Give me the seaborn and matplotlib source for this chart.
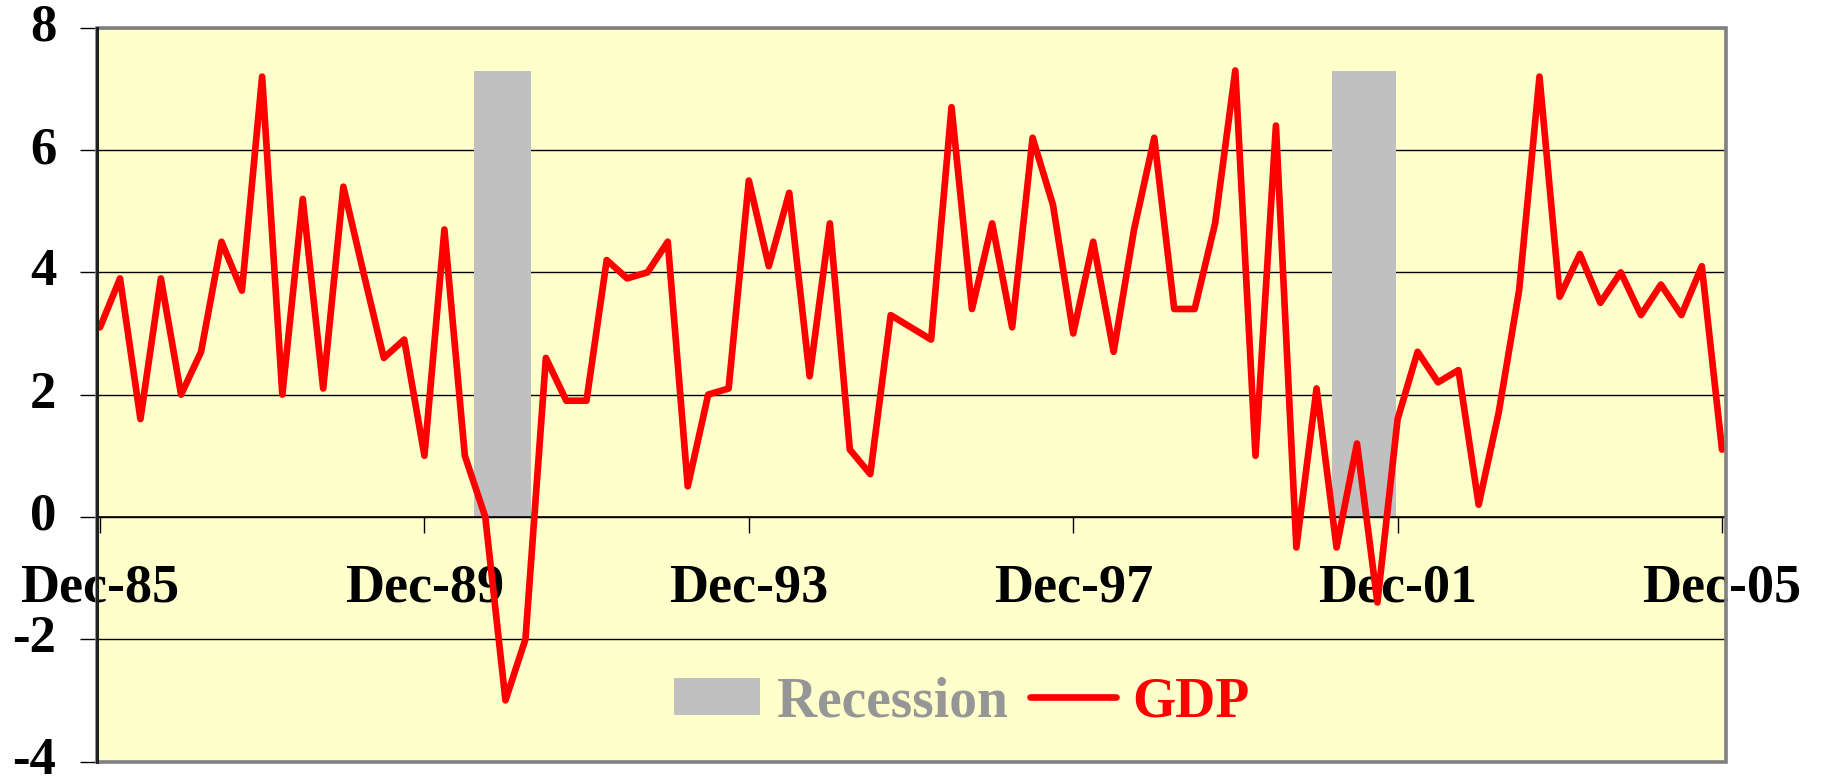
import matplotlib
matplotlib.use("Agg")
import matplotlib.pyplot as plt
import matplotlib.patches as mpatches
from matplotlib.lines import Line2D
import seaborn as sns
import pandas as pd
import numpy as np

# ---------------- data ----------------
gdp = [3.1, 3.9, 1.6, 3.9, 2.0, 2.7, 4.5, 3.7, 7.2, 2.0,
       5.2, 2.1, 5.4, 4.0, 2.6, 2.9, 1.0, 4.7, 1.0, 0.0,
       -3.0, -2.0, 2.6, 1.9, 1.9, 4.2, 3.9, 4.0, 4.5, 0.5,
       2.0, 2.1, 5.5, 4.1, 5.3, 2.3, 4.8, 1.1, 0.7, 3.3,
       3.1, 2.9, 6.7, 3.4, 4.8, 3.1, 6.2, 5.1, 3.0, 4.5,
       2.7, 4.7, 6.2, 3.4, 3.4, 4.8, 7.3, 1.0, 6.4, -0.5,
       2.1, -0.5, 1.2, -1.4, 1.6, 2.7, 2.2, 2.4, 0.2, 1.7,
       3.7, 7.2, 3.6, 4.3, 3.5, 4.0, 3.3, 3.8, 3.3, 4.1, 1.1]
first_quarter = "1985-12-01"
recession_start = ["1990-07-13", "2001-02-10"]
recession_end = ["1991-03-27", "2001-11-25"]
recession_height = [7.3, 7.3]
xtick_dates = ["1985-12-01", "1989-12-01", "1993-12-01", "1997-12-01", "2001-12-01", "2005-12-01"]
xtick_labels = ["Dec-85", "Dec-89", "Dec-93", "Dec-97", "Dec-01", "Dec-05"]
ytick_values = [-4, -2, 0, 2, 4, 6, 8]
ytick_labels = ["-4", "-2", "0", "2", "4", "6", "8"]
legend_labels = ["Recession", "GDP"]

plt.rcParams["font.family"] = ["Liberation Serif", "DejaVu Serif"]
plt.rcParams["font.weight"] = "bold"

# ---------------- figure ----------------
W, H = 1827, 782
fig = plt.figure(figsize=(W / 100, H / 100), dpi=100)
fig.patch.set_facecolor("white")
L, R, T, B = 96.7, 1726, 27.7, 761.5
ax = fig.add_axes([L / W, 1 - B / H, (R - L) / W, (B - T) / H])
ax.set_facecolor("#FFFFCC")

dates = pd.date_range(first_quarter, periods=len(gdp), freq="3MS")
df = pd.DataFrame({"date": dates, "gdp": gdp})

# recession bars
rs = pd.to_datetime(recession_start)
re_ = pd.to_datetime(recession_end)
ax.bar(rs, recession_height, width=(re_ - rs), align="edge",
       color="#C0C0C0", edgecolor="none", zorder=1)

# GDP line
sns.lineplot(data=df, x="date", y="gdp", ax=ax, color="#FF0000",
             linewidth=4.8, zorder=3, legend=False)
for ln in ax.lines:
    ln.set_solid_joinstyle("round")
    ln.set_solid_capstyle("round")

ax.set_xlim(dates[0] - pd.Timedelta(days=15), dates[-1] + pd.Timedelta(days=18))
ax.set_ylim(-4, 8)

# grid
ax.set_axisbelow(True)
ax.yaxis.grid(True, color="black", linewidth=1.0, zorder=0.5)
ax.xaxis.grid(False)

ax.set_yticks(ytick_values)
ax.set_yticklabels(ytick_labels, va="center")
ax.set_xticks(pd.to_datetime(xtick_dates))
ax.set_xticklabels(xtick_labels)
ax.tick_params(axis="y", direction="out", length=12, width=1.0, color="black",
               pad=17, labelsize=38)
ax.tick_params(axis="x", direction="out", length=11.5, width=1.0, color="black",
               pad=22, labelsize=39)
for lab in ax.get_xticklabels():
    lab.set_clip_on(False)

# spines
ax.spines["bottom"].set_position(("data", 0))
ax.spines["bottom"].set_color("black")
ax.spines["bottom"].set_linewidth(1.2)
ax.spines["top"].set_visible(False)
ax.spines["right"].set_visible(False)
ax.spines["left"].set_color("#202020")
ax.spines["left"].set_linewidth(2.2)
ax.spines["left"].set_zorder(5)
border = mpatches.Rectangle((0, 0), 1, 1, transform=ax.transAxes, fill=False,
                            edgecolor="#808080", linewidth=2.6, clip_on=False, zorder=4)
ax.add_patch(border)

ax.set_xlabel("")
ax.set_ylabel("")

# legend
handles = [mpatches.Patch(facecolor="#C0C0C0", edgecolor="none"),
           Line2D([0], [0], color="#FF0000", linewidth=4.8, solid_capstyle="round")]
leg = ax.legend(handles, legend_labels, loc="center", bbox_to_anchor=(0.531, 0.081),
                ncol=2, frameon=False, handlelength=1.55, handleheight=0.65,
                handletextpad=0.3, columnspacing=0.4,
                prop={"family": "Liberation Serif", "weight": "bold", "size": 40})
for txt, c in zip(leg.get_texts(), ["#969696", "#FF0000"]):
    txt.set_color(c)

fig.savefig("out.png", dpi=100, facecolor="white")
